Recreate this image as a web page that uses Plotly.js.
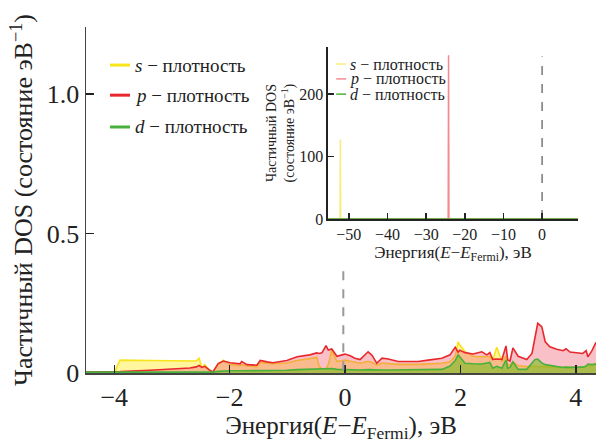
<!DOCTYPE html>
<html>
<head>
<meta charset="utf-8">
<script src="https://cdn.plot.ly/plotly-3.0.1.min.js"></script>
<style>html,body{margin:0;padding:0;background:#fff}</style>
</head>
<body>
<div id="chart"></div>
<script>
// Main panel: energy (eV) and partial DOS (states/eV)
const energy = [-4.49,-3.99,-3.93,-3.90,-3.38,-2.69,-2.58,-2.53,-2.48,-2.43,-2.36,-2.29,-2.20,-2.11,-1.99,-1.82,-1.79,-1.70,-1.53,-1.47,-1.35,-1.25,-1.01,-0.83,-0.61,-0.49,-0.45,-0.40,-0.33,-0.29,-0.23,-0.14,-0.05,0.00,0.09,0.17,0.26,0.40,0.47,0.55,0.64,0.75,0.92,1.27,1.44,1.68,1.82,1.91,1.96,1.99,2.08,2.22,2.37,2.46,2.51,2.56,2.63,2.72,2.79,2.82,2.86,2.91,3.00,3.15,3.24,3.29,3.34,3.41,3.47,3.55,3.67,3.78,3.83,3.90,4.12,4.18,4.21,4.28,4.35];
const pDOS = [0.003,0.004,0.005,0.005,0.010,0.018,0.022,0.027,0.020,0.024,0.012,0.004,0.034,0.043,0.037,0.033,0.041,0.030,0.028,0.045,0.040,0.037,0.045,0.058,0.065,0.072,0.070,0.072,0.098,0.082,0.086,0.060,0.065,0.068,0.062,0.053,0.048,0.076,0.063,0.035,0.053,0.050,0.041,0.041,0.046,0.053,0.065,0.092,0.075,0.082,0.073,0.068,0.076,0.065,0.073,0.049,0.050,0.049,0.097,0.047,0.043,0.090,0.060,0.048,0.070,0.130,0.178,0.166,0.112,0.094,0.085,0.080,0.087,0.075,0.070,0.080,0.058,0.080,0.110];
const sDOS = [0.002,0.003,0.035,0.046,0.045,0.041,0.043,0.053,0.020,0.030,0.012,0.003,0.030,0.046,0.030,0.026,0.030,0.025,0.022,0.038,0.036,0.033,0.036,0.045,0.052,0.056,0.025,0.014,0.016,0.030,0.082,0.042,0.044,0.046,0.042,0.038,0.035,0.042,0.038,0.028,0.036,0.034,0.031,0.031,0.032,0.035,0.040,0.060,0.112,0.100,0.076,0.060,0.058,0.060,0.058,0.046,0.092,0.040,0.060,0.030,0.027,0.040,0.026,0.023,0.024,0.024,0.024,0.024,0.022,0.021,0.020,0.020,0.020,0.020,0.021,0.024,0.024,0.028,0.035];
const dDOS = [0.003,0.003,0.003,0.003,0.004,0.004,0.004,0.005,0.004,0.004,0.004,0.003,0.006,0.008,0.008,0.008,0.008,0.008,0.008,0.010,0.010,0.010,0.010,0.012,0.013,0.013,0.013,0.014,0.015,0.014,0.016,0.013,0.012,0.012,0.012,0.011,0.011,0.012,0.011,0.010,0.011,0.011,0.011,0.011,0.012,0.013,0.025,0.045,0.065,0.058,0.035,0.033,0.032,0.036,0.038,0.017,0.024,0.017,0.047,0.017,0.020,0.040,0.013,0.013,0.035,0.048,0.050,0.036,0.030,0.027,0.022,0.020,0.021,0.020,0.021,0.025,0.032,0.030,0.032];

// Inset panel: wide energy range
const insetEnergy = [-55.4,-52.3,-52.2,-52.1,-24.3,-24.2,-24.1,9.3];
const insetS = [0,0,127,0,0,0,0,0];
const insetP = [0,0,0,0,0,262,0,0];
const insetD = [0,0,0,0,0,0,0,0];

const seriesNames = ['<i>s</i> − плотность','<i>p</i> − плотность','<i>d</i> − плотность'];
const mainTicks = [-4,-2,0,2,4];
const mainYTicks = [0,0.5,1.0];
const mainYTickText = ['0','0.5','1.0'];
const insetXTicks = [-50,-40,-30,-20,-10,0];
const insetYTicks = [0,100,200];

const F = 'Liberation Serif';
const TC = '#222';

const traces = [
  {x: energy, y: sDOS, type:'scatter', mode:'lines', fill:'tozeroy', fillcolor:'rgba(255,232,0,0.38)', line:{color:'#f7e41a', width:1.6}, showlegend:false},
  {x: energy, y: pDOS, type:'scatter', mode:'lines', fill:'tozeroy', fillcolor:'rgba(240,90,110,0.38)', line:{color:'#e8282c', width:1.6}, showlegend:false},
  {x: energy, y: dDOS, type:'scatter', mode:'lines', fill:'tozeroy', fillcolor:'rgba(120,190,30,0.6)', line:{color:'#48b03c', width:1.6}, showlegend:false},
  {x: insetEnergy, y: insetS, xaxis:'x2', yaxis:'y2', type:'scatter', mode:'lines', line:{color:'rgba(245,225,40,0.6)', width:1.5}, showlegend:false},
  {x: insetEnergy, y: insetP, xaxis:'x2', yaxis:'y2', type:'scatter', mode:'lines', line:{color:'rgba(235,60,70,0.6)', width:1.5}, showlegend:false},
  {x: insetEnergy, y: insetD, xaxis:'x2', yaxis:'y2', type:'scatter', mode:'lines', line:{color:'#4caf3c', width:1.5}, showlegend:false}
];

const legColorsMain = ['#f7e41a','#e8282c','#48b03c'];
const legColorsInset = ['rgba(245,225,40,0.6)','rgba(235,60,70,0.6)','#4caf3c'];
const mainLegY = [0.890, 0.803, 0.711];
const insetLegY = [0.893, 0.850, 0.806];

const shapes = [
  {type:'line', xref:'x', yref:'y', x0:-0.03, x1:-0.03, y0:0.01, y1:0.385, line:{color:'#999', width:2, dash:'dash'}},
  {type:'line', xref:'x2', yref:'y2', x0:0, x1:0, y0:0, y1:260, line:{color:'#333', width:1, dash:'dash'}}
];
const annotations = [];
for (let i=0;i<3;i++){
  shapes.push({type:'line', xref:'paper', yref:'paper', x0:0.047, x1:0.0863, y0:mainLegY[i], y1:mainLegY[i], line:{color:legColorsMain[i], width:3}});
  annotations.push({xref:'paper', yref:'paper', x:0.092, y:mainLegY[i], xanchor:'left', yanchor:'middle', text:seriesNames[i], showarrow:false, font:{family:F, size:19, color:TC}});
  shapes.push({type:'line', xref:'paper', yref:'paper', x0:0.4906, x1:0.510, y0:insetLegY[i], y1:insetLegY[i], line:{color:legColorsInset[i], width:1.5}});
  annotations.push({xref:'paper', yref:'paper', x:0.514, y:insetLegY[i], xanchor:'left', yanchor:'middle', text:seriesNames[i], showarrow:false, font:{family:F, size:16, color:TC}});
}

const axBase = {showline:true, linecolor:'#444', linewidth:1.5, ticks:'inside', tickcolor:'#222', tickwidth:1.5, showgrid:false, zeroline:false};

const layout = {
  width:596, height:443,
  margin:{l:86, r:0, t:27, b:70},
  paper_bgcolor:'#fff', plot_bgcolor:'rgba(0,0,0,0)',
  font:{family:F, color:TC},
  xaxis: Object.assign({}, axBase, {range:[-4.49,4.35], tickvals:mainTicks, ticklen:8, tickfont:{family:F, size:26, color:TC},
    title:{text:'Энергия(<i>E</i>−<i>E</i><sub>Fermi</sub>), эВ', font:{family:F, size:25, color:TC}, standoff:3}}),
  yaxis: Object.assign({}, axBase, {range:[0,1.24], tickvals:mainYTicks, ticktext:mainYTickText, ticklen:8, tickfont:{family:F, size:26, color:TC},
    title:{text:'Частичный DOS (состояние эВ<sup>−1</sup>)', font:{family:F, size:26, color:TC}, standoff:6}}),
  xaxis2: Object.assign({}, axBase, {domain:[0.4745,0.9647], anchor:'y2', range:[-55.4,9.3], tickvals:insetXTicks, ticklen:6, linecolor:'#222',
    tickfont:{family:F, size:16, color:TC},
    title:{text:'Энергия(<i>E</i>−<i>E</i><sub>Fermi</sub>), эВ', font:{family:F, size:17, color:TC}, standoff:2}}),
  yaxis2: Object.assign({}, axBase, {domain:[0.445,0.942], anchor:'x2', range:[0,275], tickvals:insetYTicks, ticklen:6, linecolor:'#222',
    tickfont:{family:F, size:16, color:TC},
    title:{text:'Частичный DOS<br>(состояние эВ<sup>−1</sup>)', font:{family:F, size:14, color:TC}, standoff:1}}),
  shapes: shapes,
  annotations: annotations,
  showlegend:false
};

Plotly.newPlot('chart', traces, layout, {staticPlot:true, displayModeBar:false});
</script>
</body>
</html>
